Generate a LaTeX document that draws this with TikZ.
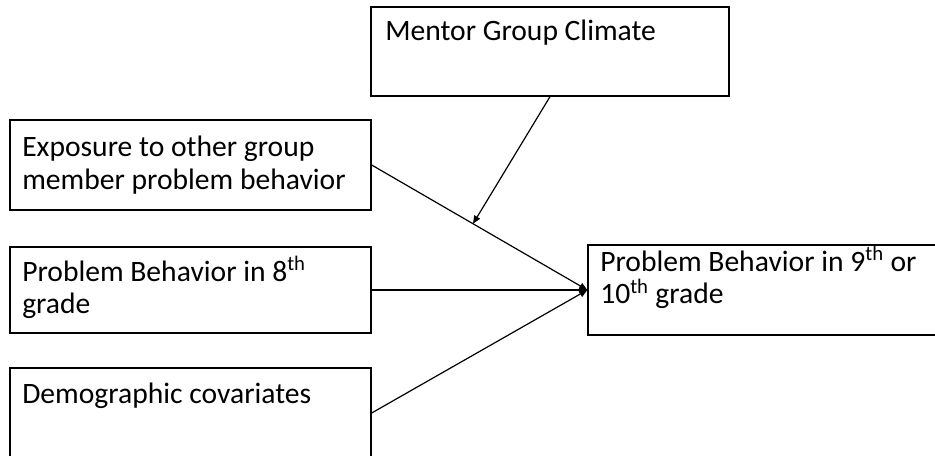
\documentclass[tikz,border=0pt]{standalone}
\usepackage{fontspec}
\setmainfont{Carlito}
\usetikzlibrary{fit,calc,arrows.meta}
\begin{document}
\begin{tikzpicture}[x=0.75pt,y=-0.75pt,
  boxnode/.style={draw=black,line width=1pt,inner sep=0pt,fill=none},
  lbl/.style={anchor=base west,inner sep=0pt,font=\fontsize{22.2}{24.5}\selectfont},
  conn/.style={draw=black,line width=0.9pt,-{Triangle[length=6pt,width=5pt]}}]
\useasboundingbox[fill=white] (0,0) rectangle (935,456);
% boxes
\node[boxnode,fit={(371,7)(729,96)}] (mentor) {};
\node[boxnode,fit={(10,120)(371,210)}] (exp) {};
\node[boxnode,fit={(10,247)(371,333)}] (pb8) {};
\node[boxnode,fit={(10,368)(371,458)}] (demo) {};
\node[boxnode,fit={(588,245)(945,335)}] (tgt) {};
% labels
\node[lbl] (tmentor) at (385,41) {Mentor Group Climate};
\node[lbl] (texp) at (22,157) {\vtop{\hbox{Exposure to other group}\hbox{member problem behavior}}};
\node[lbl] (tpb8) at (22,281) {\vtop{\hbox{Problem Behavior in 8\textsuperscript{th}}\hbox{grade}}};
\node[lbl] (tdemo) at (22,403) {Demographic covariates};
\node[lbl] (ttgt) at (600,271) {\vtop{\hbox{Problem Behavior in 9\textsuperscript{th} or}\hbox{10\textsuperscript{th} grade}}};
% connectors
\coordinate (mod) at ($(exp.east)!0.47!(tgt.west)$);
\draw[conn] (exp.east) -- (tgt.west);
\draw[conn] (pb8.east) -- (tgt.west);
\draw[conn] (demo.east) -- (tgt.west);
\draw[conn] (mentor.south) -- (mod);
\end{tikzpicture}
\end{document}
